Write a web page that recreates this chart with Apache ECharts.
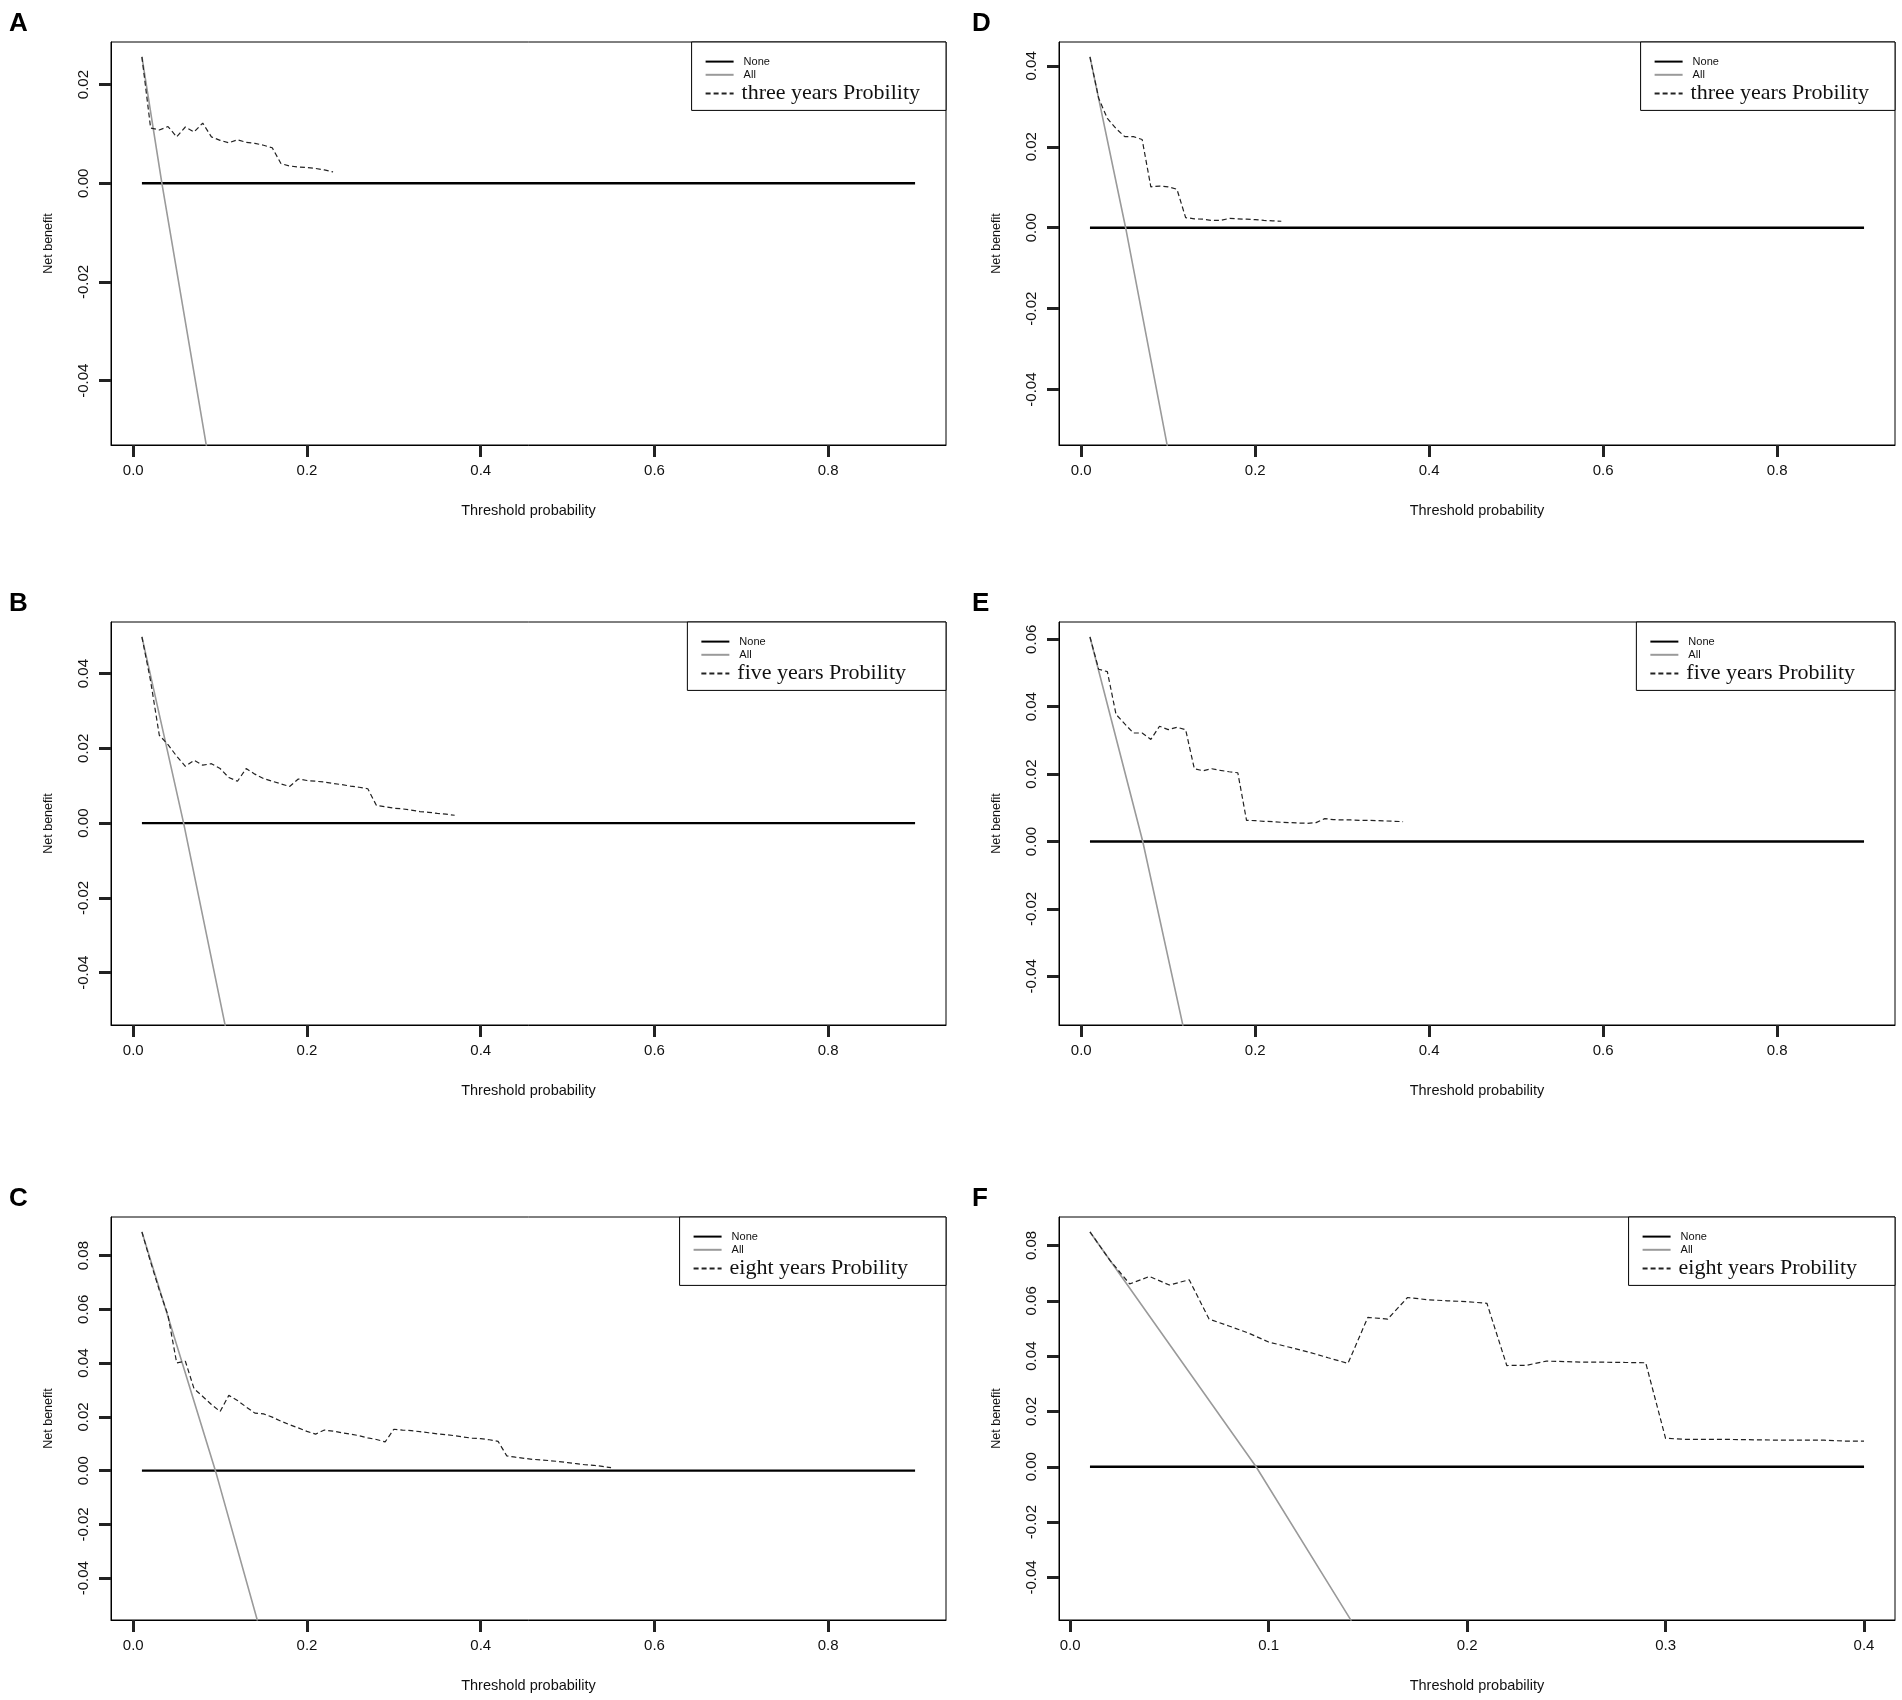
<!DOCTYPE html>
<html>
<head>
<meta charset="utf-8">
<title>Decision curves</title>
<script src="https://cdn.jsdelivr.net/npm/echarts@6/dist/echarts.min.js"></script>
<style>
  html, body { margin: 0; padding: 0; background: #fff; }
  #chart { width: 1902px; height: 1700px; }
</style>
</head>
<body>
<div id="chart"></div>
<script>
const $ = (id) => document.getElementById(id);

// threshold probabilities used by the model curves (step 0.01)
const thresholds = [
  0.01, 0.02, 0.03, 0.04, 0.05, 0.06, 0.07, 0.08, 0.09, 0.10,
  0.11, 0.12, 0.13, 0.14, 0.15, 0.16, 0.17, 0.18, 0.19, 0.20,
  0.21, 0.22, 0.23, 0.24, 0.25, 0.26, 0.27, 0.28, 0.29, 0.30,
  0.31, 0.32, 0.33, 0.34, 0.35, 0.36, 0.37, 0.38, 0.39, 0.40,
  0.41, 0.42, 0.43, 0.44, 0.45, 0.46, 0.47, 0.48, 0.49, 0.50,
  0.51, 0.52, 0.53, 0.54, 0.55
];

// net benefit of the models
const nbA = [0.0256, 0.0112, 0.0108, 0.0115, 0.0094, 0.0114, 0.0104, 0.0122, 0.0094, 0.0087,
  0.0082, 0.0088, 0.0083, 0.0081, 0.0077, 0.0072, 0.0040, 0.0035, 0.0033, 0.0032,
  0.0030, 0.0027, 0.0023];
const nbD = [0.0422, 0.0320, 0.0270, 0.0245, 0.0225, 0.0225, 0.0218, 0.0101, 0.0103, 0.0101,
  0.0095, 0.0025, 0.0022, 0.0021, 0.0018, 0.0018, 0.0023, 0.0022, 0.0021, 0.0020,
  0.0018, 0.0017, 0.0016];
const nbB = [0.0498, 0.0380, 0.0235, 0.0210, 0.0179, 0.0152, 0.0168, 0.0155, 0.0159, 0.0146,
  0.0122, 0.0112, 0.0146, 0.0131, 0.0119, 0.0112, 0.0105, 0.0098, 0.0118, 0.0114,
  0.0112, 0.0110, 0.0106, 0.0103, 0.0099, 0.0096, 0.0092, 0.0047, 0.0044, 0.0040,
  0.0038, 0.0035, 0.0031, 0.0029, 0.0026, 0.0024, 0.0021];
const nbE = [0.0607, 0.0511, 0.0504, 0.0377, 0.0349, 0.0322, 0.0322, 0.0303, 0.0342, 0.0332,
  0.0339, 0.0332, 0.0216, 0.0210, 0.0216, 0.0211, 0.0207, 0.0204, 0.0063, 0.0062,
  0.0060, 0.0059, 0.0057, 0.0056, 0.0055, 0.0054, 0.0056, 0.0068, 0.0065, 0.0064,
  0.0064, 0.0063, 0.0063, 0.0062, 0.0061, 0.0060, 0.0059];
const nbC = [0.0888, 0.0776, 0.0672, 0.0578, 0.0401, 0.0407, 0.0305, 0.0276, 0.0246, 0.0220,
  0.0280, 0.0261, 0.0237, 0.0214, 0.0211, 0.0199, 0.0184, 0.0171, 0.0159, 0.0146,
  0.0136, 0.0151, 0.0147, 0.0141, 0.0136, 0.0130, 0.0122, 0.0116, 0.0107, 0.0154,
  0.0151, 0.0149, 0.0145, 0.0141, 0.0137, 0.0134, 0.0130, 0.0125, 0.0121, 0.0119,
  0.0115, 0.0109, 0.0055, 0.0050, 0.0046, 0.0042, 0.0040, 0.0037, 0.0034, 0.0030,
  0.0026, 0.0022, 0.0020, 0.0016, 0.0011];
const nbF = [0.0849, 0.0747, 0.0661, 0.0688, 0.0657, 0.0676, 0.0534, 0.0509, 0.0483, 0.0451,
  0.0433, 0.0415, 0.0394, 0.0374, 0.0540, 0.0534, 0.0612, 0.0604, 0.0600, 0.0597,
  0.0591, 0.0366, 0.0367, 0.0382, 0.0380, 0.0378, 0.0378, 0.0377, 0.0376, 0.0103,
  0.0099, 0.0099, 0.0099, 0.0098, 0.0097, 0.0096, 0.0096, 0.0096, 0.0093, 0.0093];

// "treat all" curves: start, zero crossing, exit at the bottom of the box
const allAx = [0.01, 0.033, 0.0845];
const allAy = [0.0256, 0, -0.0535];
const allDx = [0.01, 0.051, 0.099];
const allDy = [0.0422, 0, -0.0540];
const allBx = [0.01, 0.058, 0.106];
const allBy = [0.0498, 0, -0.0543];
const allEx = [0.01, 0.0707, 0.117];
const allEy = [0.0607, 0, -0.0547];
const allCx = [0.01, 0.0946, 0.143];
const allCy = [0.0888, 0, -0.0558];
const allFx = [0.01, 0.0937, 0.1417];
const allFy = [0.0849, 0, -0.0557];

// "treat none" lines
const noneWideX = [0.01, 0.9];
const noneNarrowX = [0.01, 0.4];
const noneY = [0, 0];

// tick labels
const xTicksWide = [0, 0.2, 0.4, 0.6, 0.8];
const xTicksNarrow = [0, 0.1, 0.2, 0.3, 0.4];
const yTicksA = [-0.04, -0.02, 0, 0.02];
const yTicksD = [-0.04, -0.02, 0, 0.02, 0.04];
const yTicksB = [-0.04, -0.02, 0, 0.02, 0.04];
const yTicksE = [-0.04, -0.02, 0, 0.02, 0.04, 0.06];
const yTicksC = [-0.04, -0.02, 0, 0.02, 0.04, 0.06, 0.08];
const yTicksF = [-0.04, -0.02, 0, 0.02, 0.04, 0.06, 0.08];

const panelLetters = ["A", "D", "B", "E", "C", "F"];
const modelNames = ["three years Probility", "three years Probility", "five years Probility",
  "five years Probility", "eight years Probility", "eight years Probility"];

const sans = "Liberation Sans, Arial, sans-serif";
const serif = "Liberation Serif, Times New Roman, serif";
const ink = "#111";

const cols = [{ left: 111, width: 835 }, { left: 1059, width: 836 }];
const rows = [42, 622, 1217];
const legendRightPad = [26, 40, 38];
const boxH = 403;
const pageW = 1902;

const panels = [
  { nb: nbA, allX: allAx, allY: allAy, noneX: noneWideX, xTicks: xTicksWide, yTicks: yTicksA },
  { nb: nbD, allX: allDx, allY: allDy, noneX: noneWideX, xTicks: xTicksWide, yTicks: yTicksD },
  { nb: nbB, allX: allBx, allY: allBy, noneX: noneWideX, xTicks: xTicksWide, yTicks: yTicksB },
  { nb: nbE, allX: allEx, allY: allEy, noneX: noneWideX, xTicks: xTicksWide, yTicks: yTicksE },
  { nb: nbC, allX: allCx, allY: allCy, noneX: noneWideX, xTicks: xTicksWide, yTicks: yTicksC },
  { nb: nbF, allX: allFx, allY: allFy, noneX: noneNarrowX, xTicks: xTicksNarrow, yTicks: yTicksF }
];

const zip = (xs, ys) => xs.map((x, k) => [x, ys[k]]);

// R style axis limits: data range widened by 4% on each side
function rRange(lo, hi) {
  const pad = (hi - lo) * 0.04;
  return [lo - pad, hi + pad];
}

const tickStyle = (values) => ({
  show: true, inside: false, length: 12, customValues: values,
  lineStyle: { color: "#222", width: 3 }
});

const chart = echarts.init($("chart"));

const grids = [];
const xAxes = [];
const yAxes = [];
const series = [];
const titles = [];
const legends = [];

panels.forEach((p, i) => {
  const col = cols[i % 2];
  const row = Math.floor(i / 2);
  const top = rows[row];
  grids.push({
    left: col.left, top, width: col.width, height: boxH,
    show: true, borderColor: "#000", borderWidth: 1, backgroundColor: "transparent"
  });

  const xr = rRange(p.noneX[0], p.noneX[1]);
  const yr = rRange(-0.05, Math.max(...p.nb));

  xAxes.push({
    gridIndex: i, type: "value", min: xr[0], max: xr[1],
    name: "Threshold probability", nameLocation: "middle", nameGap: 58,
    nameTextStyle: { fontFamily: sans, fontSize: 14.5, color: ink },
    axisLine: { show: true, onZero: false, lineStyle: { color: "#000", width: 1 } },
    splitLine: { show: false },
    axisTick: tickStyle(p.xTicks),
    axisLabel: {
      customValues: p.xTicks, margin: 18, fontFamily: sans, fontSize: 15, color: ink,
      formatter: (v) => Number(v).toFixed(1)
    }
  });

  yAxes.push({
    gridIndex: i, type: "value", min: yr[0], max: yr[1],
    name: "Net benefit", nameLocation: "middle", nameGap: 56,
    nameTextStyle: { fontFamily: sans, fontSize: 12.5, color: ink },
    axisLine: { show: true, onZero: false, lineStyle: { color: "#000", width: 1 } },
    splitLine: { show: false },
    axisTick: tickStyle(p.yTicks),
    axisLabel: {
      customValues: p.yTicks, rotate: 90, margin: 20, fontFamily: sans, fontSize: 15, color: ink,
      formatter: (v) => Number(v).toFixed(2)
    }
  });

  series.push({
    name: "None", type: "line", xAxisIndex: i, yAxisIndex: i,
    data: zip(p.noneX, noneY), symbol: "none", silent: true,
    lineStyle: { color: "#000", width: 2.4 }, itemStyle: { color: "#000" }
  });
  series.push({
    name: "All", type: "line", xAxisIndex: i, yAxisIndex: i,
    data: zip(p.allX, p.allY), symbol: "none", silent: true,
    lineStyle: { color: "#9a9a9a", width: 1.6 }, itemStyle: { color: "#9a9a9a" }
  });
  series.push({
    name: modelNames[i], type: "line", xAxisIndex: i, yAxisIndex: i,
    data: zip(thresholds.slice(0, p.nb.length), p.nb), symbol: "none", silent: true,
    lineStyle: { color: "#222", width: 1.2, type: [5, 3] }, itemStyle: { color: "#222" }
  });

  titles.push({
    text: panelLetters[i],
    left: i % 2 === 0 ? 9 : 972,
    top: top - 31,
    padding: 0,
    textStyle: { fontFamily: sans, fontSize: 26, fontWeight: "bold", color: "#000" }
  });

  legends.push({
    orient: "vertical",
    right: pageW - (col.left + col.width),
    top,
    itemWidth: 28,
    itemHeight: 14,
    itemGap: 2,
    padding: [14, legendRightPad[row], 6, 13],
    borderColor: "#000",
    borderWidth: 1,
    backgroundColor: "#fff",
    selectedMode: false,
    itemStyle: { opacity: 0, borderWidth: 0 },
    data: [
      { name: "None", textStyle: { fontFamily: sans, fontSize: 11, color: ink, padding: [0, 0, 0, 5] } },
      { name: "All", textStyle: { fontFamily: sans, fontSize: 11, color: ink, padding: [0, 0, 0, 5] } },
      { name: modelNames[i], textStyle: { fontFamily: serif, fontSize: 22, color: ink, padding: [0, 0, 0, 3], lineHeight: 14 } }
    ]
  });
});

chart.setOption({
  animation: false,
  backgroundColor: "#fff",
  title: titles,
  legend: legends,
  grid: grids,
  xAxis: xAxes,
  yAxis: yAxes,
  series
});

window.addEventListener("resize", () => chart.resize());
</script>
</body>
</html>
